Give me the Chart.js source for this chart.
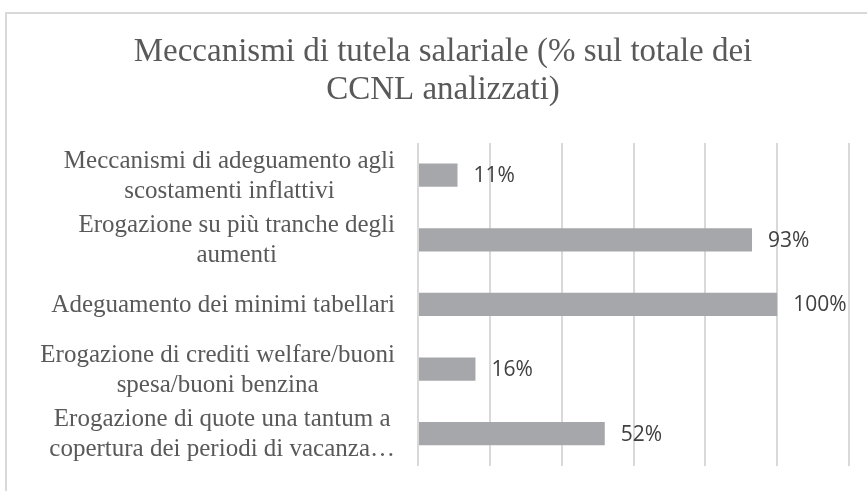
<!DOCTYPE html>
<html>
<head>
<meta charset="utf-8">
<script src="https://cdn.jsdelivr.net/npm/chart.js@4.4.1/dist/chart.umd.min.js"></script>
<style>
  body { margin: 0; background: #fff; overflow: hidden; }
  #wrap { position: relative; width: 867px; height: 491px; }
  #frame { position: absolute; left: 5px; top: 12px; width: 900px; height: 600px; border: 2px solid #d9d9d9; box-sizing: border-box; }
  #salariChart { position: absolute; left: 0; top: 0; }
</style>
</head>
<body>
<div id="wrap">
  <div id="frame"></div>
  <canvas id="salariChart" width="867" height="491"></canvas>
</div>
<script>
const categories = [
  ['Meccanismi di adeguamento agli', 'scostamenti inflattivi'],
  ['Erogazione su più tranche degli', 'aumenti'],
  ['Adeguamento dei minimi tabellari'],
  ['Erogazione di crediti welfare/buoni', 'spesa/buoni benzina'],
  ['Erogazione di quote una tantum a', 'copertura dei periodi di vacanza…']
];
const values = [11, 93, 100, 16, 52];
const titleLines = ['Meccanismi di tutela salariale (% sul totale dei', 'CCNL analizzati)'];

const SERIF = '"Liberation Serif", "DejaVu Serif", serif';
const GREY_TEXT = '#595959';

// etichette delle categorie: ogni blocco centrato su se stesso, allineato a destra
const categoryLabels = {
  id: 'categoryLabels',
  afterDraw(chart) {
    const ctx = chart.ctx;
    const y = chart.scales.y;
    ctx.save();
    ctx.font = '25px ' + SERIF;
    ctx.fillStyle = GREY_TEXT;
    ctx.textAlign = 'center';
    ctx.textBaseline = 'middle';
    const lineH = 30;
    const right = y.right - 23;
    categories.forEach((lines, i) => {
      const cy = y.getPixelForTick(i);
      const w = Math.max(...lines.map((l) => ctx.measureText(l).width));
      const cx = right - w / 2;
      const start = cy - (lines.length - 1) * lineH / 2 + 1;
      lines.forEach((l, k) => ctx.fillText(l, cx, start + k * lineH));
    });
    ctx.restore();
  }
};

// valori a destra delle barre
const valueLabels = {
  id: 'valueLabels',
  afterDatasetsDraw(chart) {
    const ctx = chart.ctx;
    const meta = chart.getDatasetMeta(0);
    ctx.save();
    ctx.font = '21px "Open Sans", sans-serif';
    ctx.fillStyle = '#404040';
    ctx.textAlign = 'left';
    ctx.textBaseline = 'middle';
    meta.data.forEach((bar, i) => {
      ctx.fillText(values[i] + '%', bar.x + 16, bar.y + 1);
    });
    ctx.restore();
  }
};

new Chart(document.getElementById('salariChart'), {
  type: 'bar',
  data: {
    labels: categories,
    datasets: [{
      data: values,
      backgroundColor: '#a6a7aa',
      borderWidth: 0,
      barPercentage: 0.36,
      categoryPercentage: 1
    }]
  },
  options: {
    indexAxis: 'y',
    responsive: false,
    animation: false,
    layout: { padding: { left: 37, right: 18, top: 0, bottom: 25 } },
    plugins: {
      legend: { display: false },
      tooltip: { enabled: false },
      title: {
        display: true,
        text: titleLines,
        color: GREY_TEXT,
        font: { family: SERIF, size: 33, weight: 'normal', lineHeight: 1.15 },
        padding: { top: 33, bottom: 34 }
      }
    },
    scales: {
      x: {
        min: 0,
        max: 120,
        ticks: { display: false, stepSize: 20 },
        grid: { color: '#d9d9d9', lineWidth: 2, drawTicks: false },
        border: { display: false }
      },
      y: {
        ticks: { display: false },
        grid: { display: false, drawTicks: false },
        border: { display: false },
        afterFit: (scale) => { scale.width = 381; }
      }
    }
  },
  plugins: [categoryLabels, valueLabels]
});
</script>
</body>
</html>
